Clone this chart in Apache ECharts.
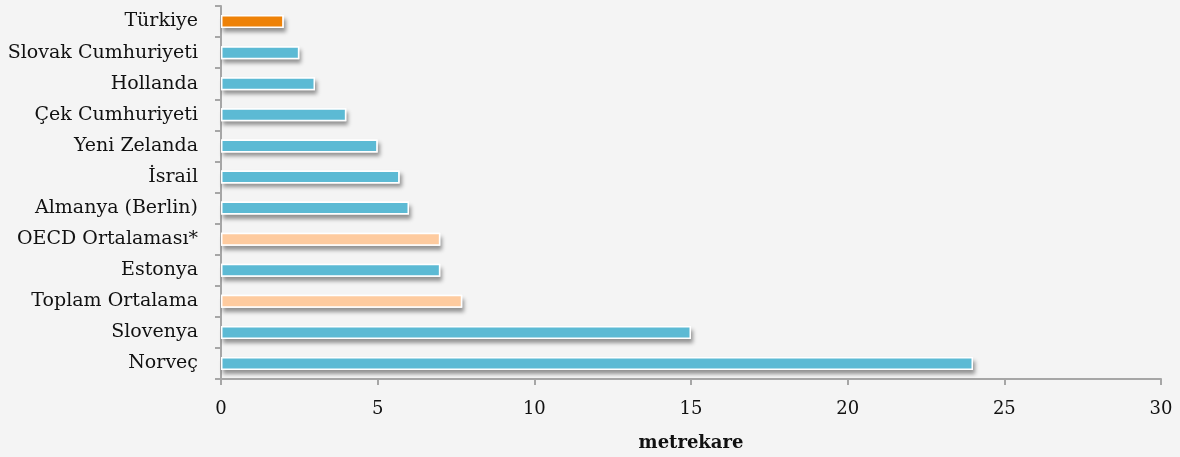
<!DOCTYPE html>
<html><head><meta charset="utf-8">
<script src="https://cdn.jsdelivr.net/npm/echarts@6/dist/echarts.min.js"></script>
<style>html,body{margin:0;padding:0;background:#f4f4f4}#c{width:1180px;height:457px}</style>
</head><body><div id="c"></div>
<script>
const categories = ["Türkiye","Slovak Cumhuriyeti","Hollanda","Çek Cumhuriyeti","Yeni Zelanda","İsrail","Almanya (Berlin)","OECD Ortalaması*","Estonya","Toplam Ortalama","Slovenya","Norveç"];
const values = [2, 2.5, 3, 4, 5, 5.7, 6, 7, 7, 7.7, 15, 24];
const kinds = ["tr","c","c","c","c","c","c","avg","c","avg","c","c"];
const palette = {tr:"#ee8208", c:"#5cbad4", avg:"#fecb9f"};
const font = "DejaVu Serif";
const chart = echarts.init(document.getElementById('c'));
chart.setOption({
  backgroundColor:"#f4f4f4",
  animation:false,
  grid:{left:221,right:19,top:6,bottom:78},
  xAxis:{type:'value',min:0,max:30,interval:5,
    name:'metrekare',nameLocation:'middle',nameGap:55,
    nameTextStyle:{fontFamily:font,fontWeight:'bold',fontSize:18,color:'#111'},
    axisLine:{show:true,lineStyle:{color:'#a6a6a6',width:2}},
    axisTick:{show:true,length:6,lineStyle:{color:'#a6a6a6',width:2}},
    splitLine:{show:false},
    axisLabel:{fontFamily:font,fontSize:18,color:'#111',margin:21}},
  yAxis:{type:'category',data:categories,inverse:true,
    axisLine:{show:true,lineStyle:{color:'#a6a6a6',width:2}},
    axisTick:{show:true,length:6,lineStyle:{color:'#a6a6a6',width:2}},
    axisLabel:{fontFamily:font,fontSize:19,color:'#111',margin:23}},
  series:[
    {type:'bar',barWidth:13,barGap:'-100%',z:1,silent:true,
     data:values,
     itemStyle:{color:'#ffffff',shadowColor:'rgba(0,0,0,0.4)',shadowBlur:4,shadowOffsetX:2,shadowOffsetY:4}},
    {type:'bar',barWidth:13,barGap:'-100%',z:2,
     data:values.map((v,i)=>({value:v,itemStyle:{color:palette[kinds[i]]}})),
     itemStyle:{borderColor:'#fff',borderWidth:1.5}}
  ]
});
</script></body></html>
